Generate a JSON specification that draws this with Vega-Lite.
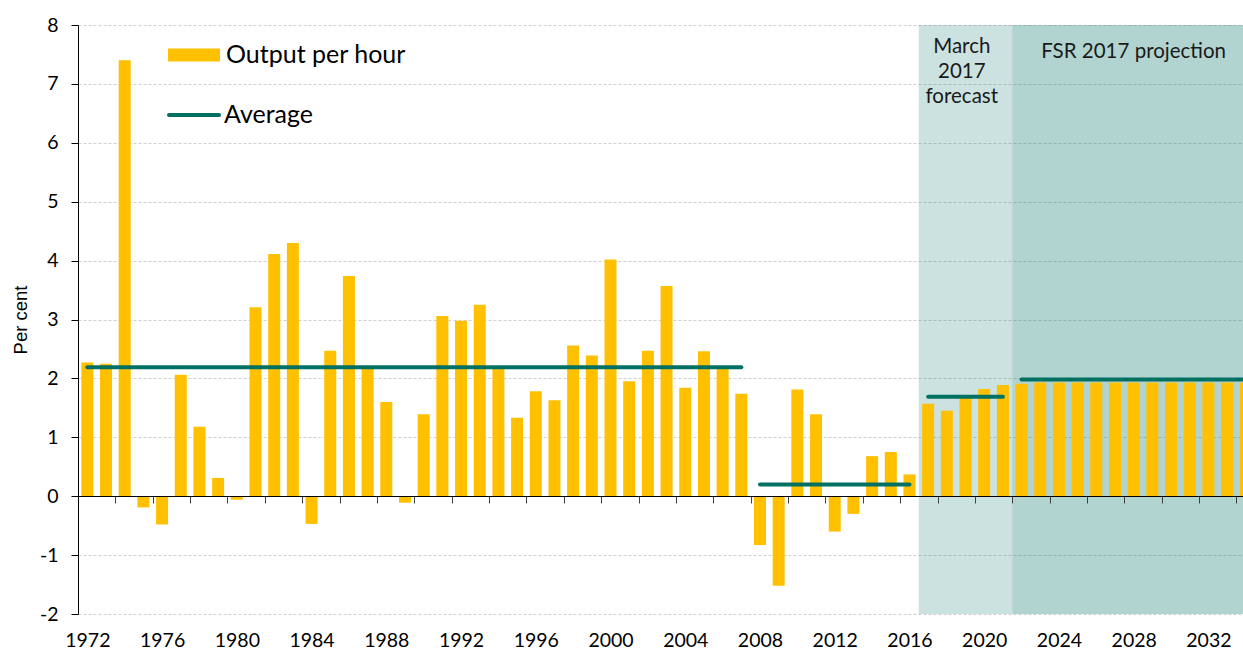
{
  "$schema": "https://vega.github.io/schema/vega-lite/v6.json",
  "width": 1165,
  "height": 589,
  "autosize": {"type": "none"},
  "padding": {"left": 78, "top": 25, "right": 0, "bottom": 38},
  "background": "white",
  "config": {
    "view": {"stroke": null},
    "font": "Lato",
    "axisY": {
      "titleFont": "Liberation Sans", "titleFontSize": 18.5, "titleFontWeight": "normal", "titleColor": "#000000", "titlePadding": 9,
      "grid": true, "gridColor": "#d0d0d0", "gridDash": [3, 2], "gridWidth": 1,
      "domainColor": "#000000", "tickColor": "#000000", "tickSize": 7, "labelPadding": 13,
      "labelFont": "Lato", "labelFontSize": 19.5, "labelColor": "#000000"
    }
  },
  "datasets": {
    "bars": [
      {"year": 1972, "value": 2.27}, {"year": 1973, "value": 2.25}, {"year": 1974, "value": 7.40},
      {"year": 1975, "value": -0.19}, {"year": 1976, "value": -0.48}, {"year": 1977, "value": 2.06},
      {"year": 1978, "value": 1.18}, {"year": 1979, "value": 0.31}, {"year": 1980, "value": -0.06},
      {"year": 1981, "value": 3.21}, {"year": 1982, "value": 4.11}, {"year": 1983, "value": 4.30},
      {"year": 1984, "value": -0.47}, {"year": 1985, "value": 2.47}, {"year": 1986, "value": 3.74},
      {"year": 1987, "value": 2.19}, {"year": 1988, "value": 1.60}, {"year": 1989, "value": -0.11},
      {"year": 1990, "value": 1.39}, {"year": 1991, "value": 3.06}, {"year": 1992, "value": 2.98},
      {"year": 1993, "value": 3.25}, {"year": 1994, "value": 2.17}, {"year": 1995, "value": 1.33},
      {"year": 1996, "value": 1.78}, {"year": 1997, "value": 1.63}, {"year": 1998, "value": 2.56},
      {"year": 1999, "value": 2.39}, {"year": 2000, "value": 4.02}, {"year": 2001, "value": 1.95},
      {"year": 2002, "value": 2.47}, {"year": 2003, "value": 3.57}, {"year": 2004, "value": 1.84},
      {"year": 2005, "value": 2.46}, {"year": 2006, "value": 2.18}, {"year": 2007, "value": 1.74},
      {"year": 2008, "value": -0.83}, {"year": 2009, "value": -1.52}, {"year": 2010, "value": 1.81},
      {"year": 2011, "value": 1.39}, {"year": 2012, "value": -0.60}, {"year": 2013, "value": -0.30},
      {"year": 2014, "value": 0.68}, {"year": 2015, "value": 0.75}, {"year": 2016, "value": 0.37},
      {"year": 2017, "value": 1.57}, {"year": 2018, "value": 1.45}, {"year": 2019, "value": 1.67},
      {"year": 2020, "value": 1.82}, {"year": 2021, "value": 1.89}, {"year": 2022, "value": 1.91},
      {"year": 2023, "value": 1.93}, {"year": 2024, "value": 1.93}, {"year": 2025, "value": 1.93},
      {"year": 2026, "value": 1.93}, {"year": 2027, "value": 1.93}, {"year": 2028, "value": 1.93},
      {"year": 2029, "value": 1.93}, {"year": 2030, "value": 1.93}, {"year": 2031, "value": 1.93},
      {"year": 2032, "value": 1.93}, {"year": 2033, "value": 1.93}, {"year": 2034, "value": 1.93}
    ],
    "regions": [
      {"start": 2016.5, "end": 2021.5, "period": "forecast"},
      {"start": 2021.5, "end": 2035, "period": "projection"}
    ],
    "averages": [
      {"start": 1972, "end": 2007, "avg": 2.19},
      {"start": 2008, "end": 2016, "avg": 0.2},
      {"start": 2017, "end": 2021, "avg": 1.69},
      {"start": 2022, "end": 2036, "avg": 1.98}
    ],
    "notes": [
      {"year": 2018.8, "value": 7.62, "label": "March\n2017\nforecast"},
      {"year": 2028, "value": 7.55, "label": "FSR 2017 projection"}
    ]
  },
  "resolve": {"axis": {"x": "independent"}},
  "layer": [
    {
      "data": {"name": "regions"},
      "mark": {"type": "rect", "clip": true, "color": "#007062"},
      "encoding": {
        "x": {
          "field": "start", "type": "quantitative",
          "scale": {"domain": [1971.5, 2033.85], "nice": false, "zero": false, "padding": 0},
          "axis": {
            "orient": "bottom", "offset": -118, "zindex": 1,
            "values": [1973.5, 1975.5, 1977.5, 1979.5, 1981.5, 1983.5, 1985.5, 1987.5, 1989.5, 1991.5, 1993.5, 1995.5, 1997.5, 1999.5, 2001.5, 2003.5, 2005.5, 2007.5, 2009.5, 2011.5, 2013.5, 2015.5, 2017.5, 2019.5, 2021.5, 2023.5, 2025.5, 2027.5, 2029.5, 2031.5, 2033.5],
            "labels": false, "ticks": true, "tickSize": 7, "tickColor": "#404040", "tickWidth": 1,
            "domain": true, "domainColor": "#000000", "domainWidth": 1,
            "grid": false, "title": null
          }
        },
        "x2": {"field": "end"},
        "opacity": {"field": "period", "type": "ordinal", "scale": {"domain": ["forecast", "projection"], "range": [0.2, 0.3]}, "legend": null}
      }
    },
    {
      "data": {"name": "bars"},
      "mark": {"type": "bar", "width": 12, "clip": true},
      "encoding": {
        "x": {
          "field": "year", "type": "quantitative",
          "axis": {
            "orient": "bottom", "values": [1972, 1976, 1980, 1984, 1988, 1992, 1996, 2000, 2004, 2008, 2012, 2016, 2020, 2024, 2028, 2032],
            "format": "d", "ticks": false, "domain": false, "grid": false, "title": null,
            "labelFont": "Lato", "labelFontSize": 19.5, "labelColor": "#000000", "labelPadding": 17
          }
        },
        "y": {
          "field": "value", "type": "quantitative", "title": "Per cent",
          "scale": {"domain": [-2, 8], "nice": false, "padding": 0},
          "axis": {"values": [-2, -1, 0, 1, 2, 3, 4, 5, 6, 7, 8], "labelExpr": "'' + datum.value", "titleFontSize": 18.5, "titleFont": "Liberation Sans", "titlePadding": 9}
        },
        "fill": {
          "datum": "Output per hour", "type": "nominal",
          "scale": {"range": ["#FFC000"]},
          "legend": {
            "orient": "none", "legendX": 90, "legendY": 4, "title": null, "padding": 0,
            "symbolType": "M-1,-0.25H1V0.25H-1Z", "symbolSize": 2704, "symbolStrokeWidth": 0,
            "labelFont": "Lato", "labelFontSize": 25, "labelColor": "#000000", "labelOffset": 6, "labelLimit": 400
          }
        }
      }
    },
    {
      "data": {"name": "averages"},
      "mark": {"type": "rule", "strokeWidth": 4, "strokeCap": "round", "clip": true},
      "encoding": {
        "x": {"field": "start", "type": "quantitative", "axis": null},
        "x2": {"field": "end"},
        "y": {"field": "avg", "type": "quantitative", "title": "Per cent", "axis": {"values": [-2, -1, 0, 1, 2, 3, 4, 5, 6, 7, 8], "labelExpr": "'' + datum.value", "titleFontSize": 18.5, "titleFont": "Liberation Sans", "titlePadding": 9}},
        "stroke": {
          "datum": "Average", "type": "nominal",
          "scale": {"range": ["#007062"]},
          "legend": {
            "orient": "none", "legendX": 89, "legendY": 63, "title": null, "padding": 0,
            "symbolType": "stroke", "symbolSize": 2500, "symbolStrokeWidth": 4,
            "labelFont": "Lato", "labelFontSize": 25, "labelColor": "#000000", "labelOffset": 3, "labelLimit": 400,
            "encode": {"symbols": {"update": {"strokeCap": {"value": "round"}}}}
          }
        }
      }
    },
    {
      "data": {"name": "notes"},
      "mark": {"type": "text", "font": "Lato", "fontSize": 20.5, "color": "#1a1a1a", "lineBreak": "\n", "lineHeight": 25, "baseline": "middle", "align": "center"},
      "encoding": {
        "x": {"field": "year", "type": "quantitative", "axis": null},
        "y": {"field": "value", "type": "quantitative", "title": "Per cent", "axis": {"values": [-2, -1, 0, 1, 2, 3, 4, 5, 6, 7, 8], "labelExpr": "'' + datum.value", "titleFontSize": 18.5, "titleFont": "Liberation Sans", "titlePadding": 9}},
        "text": {"field": "label"}
      }
    }
  ]
}
